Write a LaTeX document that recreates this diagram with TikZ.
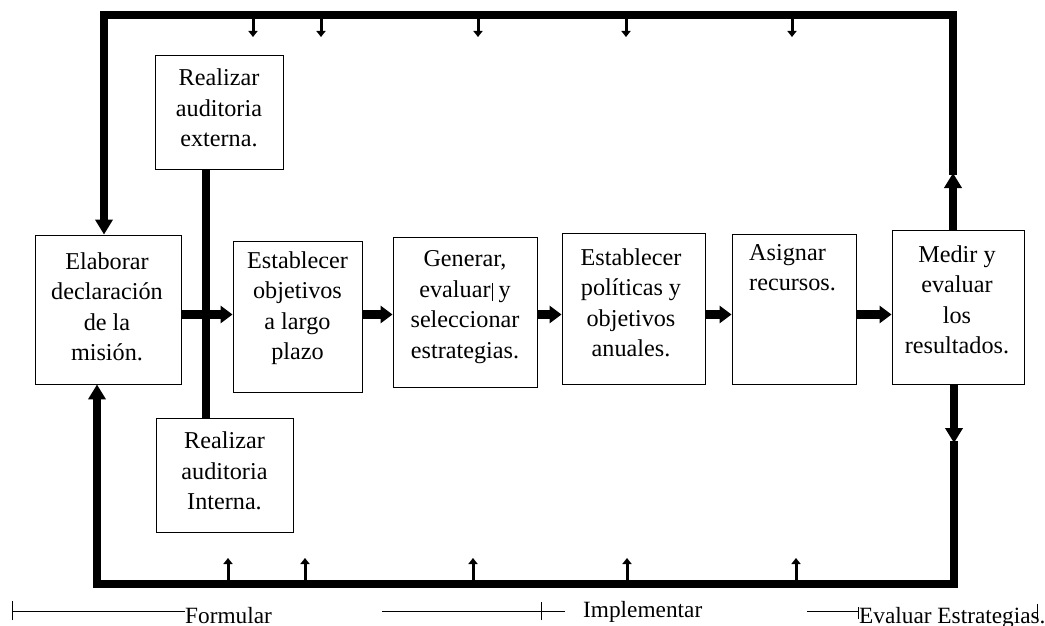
\documentclass[tikz,border=0pt]{standalone}
\usepackage{fontspec}
\setmainfont{Liberation Serif}
\usetikzlibrary{arrows.meta}
\begin{document}
\begin{tikzpicture}[x=1pt,y=-1pt,
  box/.style={draw,line width=0.9pt,inner sep=0pt},
  txt/.style={align=center,inner sep=0pt,font=\fontsize{24.2}{30.5}\selectfont},
  flow/.style={line width=8.5pt,-{Triangle[length=12pt,width=17pt]}},
  loopline/.style={line width=8pt,line join=miter},
  looparrow/.style={line width=8.5pt,-{Triangle[length=15pt,width=17pt]}},
  input/.style={line width=3pt,-{Triangle[length=6pt,width=9pt]}},
  span/.style={line width=0.8pt},
  phase/.style={anchor=base west,inner sep=0pt,font=\fontsize{23.3}{28}\selectfont}]
\useasboundingbox (0,0) rectangle (1045,626);

% process boxes
\node[box,minimum width=128pt,minimum height=114pt] (externa) at (219,112) {};
\node[txt] (externatxt) at (219,108) {Realizar\\auditoria\\externa.};
\node[box,minimum width=146pt,minimum height=149pt] (mision) at (108,309.5) {};
\node[txt] (misiontxt) at (107,307) {Elaborar\\declaración\\de la\\misión.};
\node[box,minimum width=129pt,minimum height=151pt] (objetivos) at (297.5,316.5) {};
\node[txt] (objetivostxt) at (297.5,308) {Establecer\\objetivos\\a largo\\plazo};
\node[box,minimum width=137pt,minimum height=114pt] (interna) at (224.5,475) {};
\node[txt] (internatxt) at (224.5,471) {Realizar\\auditoria\\Interna.};
\node[box,minimum width=144pt,minimum height=150pt] (generar) at (465,312) {};
\node[txt] (generartxt) at (465,307) {Generar,\\evaluar\kern1pt\rule[-4pt]{0.9pt}{18pt}\ y\\seleccionar\\estrategias.};
\node[box,minimum width=143pt,minimum height=151pt] (politicas) at (633.5,308.5) {};
\node[txt] (politicastxt) at (631,303) {Establecer\\políticas y\\objetivos\\anuales.};
\node[box,minimum width=124pt,minimum height=150pt] (asignar) at (794,309) {};
\node[txt,align=left,anchor=north west] (asignartxt) at (749,244) {Asignar\\recursos.};
\node[box,minimum width=132pt,minimum height=154pt] (medir) at (958,307) {};
\node[txt] (medirtxt) at (957,300) {Medir y\\evaluar\\los\\resultados.};

% main flow
\coordinate (fy) at (0,314.5);
\draw[flow] (mision.east |- fy) -- (objetivos.west |- fy);
\draw[flow] (objetivos.east |- fy) -- (generar.west |- fy);
\draw[flow] (generar.east |- fy) -- (politicas.west |- fy);
\draw[flow] (politicas.east |- fy) -- (asignar.west |- fy);
\draw[flow] (asignar.east |- fy) -- (medir.west |- fy);

% audits feeding the mission arrow
\coordinate (audx) at (206,0);
\draw[line width=8pt] (audx |- externa.south) -- (audx |- interna.north);

% feedback loop corners
\coordinate (tl) at (104,15);
\coordinate (tr) at (953,15);
\coordinate (bl) at (97,584);
\coordinate (br) at (954,584);
\coordinate (upmid) at (953,173);
\coordinate (downmid) at (954,443);

% upper loop
\draw[looparrow] (tr |- medir.north) -- (upmid);
\draw[loopline] (953,175) -- (tr) -- (tl) -- (104,212);
\draw[looparrow] (104,205) -- (tl |- mision.north);

% lower loop
\draw[looparrow] (954,384) -- (downmid);
\draw[loopline] (954,441) -- (br) -- (bl) -- (97,410);
\draw[looparrow] (97,415) -- (bl |- mision.south);

% inputs from the top bar
\foreach \n/\x in {t1/253,t2/321,t3/478,t4/626,t5/792}{
  \coordinate (\n a) at (\x,18);
  \coordinate (\n b) at (\x,37);
  \draw[input] (\n a) -- (\n b);
}
% inputs from the bottom bar
\foreach \n/\x in {b1/228,b2/305,b3/473,b4/627,b5/796}{
  \coordinate (\n a) at (\x,581);
  \coordinate (\n b) at (\x,558);
  \draw[input] (\n a) -- (\n b);
}

% phases
\node[phase] (formular) at (185,623) {Formular};
\node[phase] (implementar) at (583,617) {Implementar};
\node[phase] (evaluar) at (859,623) {Evaluar Estrategias.};

\coordinate (s1) at (12,611);
\coordinate (s2) at (382,611);
\coordinate (s2t) at (541,611);
\coordinate (s2e) at (565,611);
\coordinate (s3) at (807,611);
\coordinate (s3t) at (858,611);
\coordinate (s4t) at (1037,612);

\draw[span] (s1) -- (formular.west |- s1);
\draw[span] ([yshift=-9pt]s1) -- ([yshift=10pt]s1);
\draw[span] (s2) -- (s2e);
\draw[span] ([yshift=-9pt]s2t) -- ([yshift=9pt]s2t);
\draw[span] (s3) -- (s3t);
\draw[span] ([yshift=-8pt]s3t) -- ([yshift=4pt]s3t);
\draw[span] ([yshift=-7pt]s4t) -- ([yshift=8pt]s4t);
\end{tikzpicture}
\end{document}
